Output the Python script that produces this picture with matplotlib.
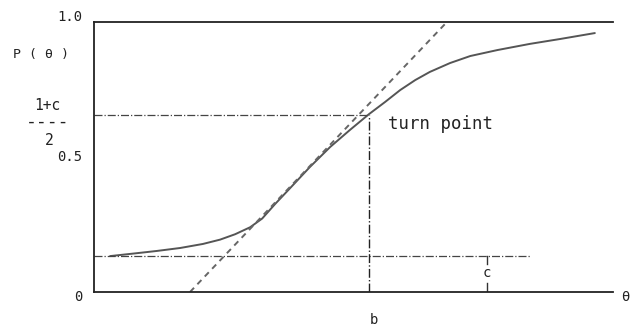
import matplotlib
matplotlib.use("Agg")
import matplotlib.pyplot as plt

# P(theta) curve (theta in arbitrary units 0..10)
theta = [0.31, 0.79, 1.21, 1.66, 2.10, 2.43, 2.72, 3.01, 3.24, 3.49, 3.78,
         4.16, 4.55, 4.93, 5.30, 5.61, 5.90, 6.19, 6.47, 6.86, 7.25, 7.77,
         8.40, 8.98, 9.65]
p_theta = [0.133, 0.143, 0.152, 0.163, 0.178, 0.194, 0.214, 0.240, 0.272,
           0.326, 0.385, 0.463, 0.537, 0.600, 0.659, 0.704, 0.748, 0.785,
           0.815, 0.848, 0.874, 0.896, 0.919, 0.937, 0.959]

# tangent at the turn point (two ends)
tangent_x = [1.85, 6.80]
tangent_y = [0.0, 1.0]

c = 0.133          # lower asymptote
b = 5.30           # turn point theta
turn_level = 0.656 # (1+c)/2 as drawn
c_line_end = 8.40
c_mark_x = 7.57

y_ticks = [0.0, 0.5, 1.0]
y_tick_labels = ["0", "0.5", "1.0"]

W, H = 630, 326
fig = plt.figure(figsize=(W / 100, H / 100), dpi=100)
ax = fig.add_axes([94 / W, 1 - 292 / H, (613 - 94) / W, (292 - 22) / H])
ax.set_xlim(0, 10)
ax.set_ylim(0, 1)
ax.set_xticks([])
ax.set_yticks([])
ax.spines["right"].set_visible(False)
for s in ["left", "top", "bottom"]:
    ax.spines[s].set_linewidth(1.3)
    ax.spines[s].set_color("#222222")

mono = "DejaVu Sans Mono"
txt = dict(family=mono, color="#222222", clip_on=False)

# curve and tangent
ax.plot(theta, p_theta, color="#555555", lw=1.4, solid_capstyle="round")
ax.plot(tangent_x, tangent_y, color="#666666", lw=1.4, ls=(0, (3, 2.5)))

# reference lines
ax.plot([0, c_line_end], [c, c], color="#444444", lw=0.9, ls="-.")
ax.plot([0, b], [turn_level, turn_level], color="#444444", lw=0.9, ls="-.")
ax.plot([b, b], [0, turn_level], color="#222222", lw=1.0, ls="-.")

# c marker
ax.plot([c_mark_x, c_mark_x], [c, c - 0.03], color="#333333", lw=1.0)
ax.plot([c_mark_x, c_mark_x], [0, 0.035], color="#333333", lw=1.0)
ax.text(c_mark_x, 0.07, "c", ha="center", va="center", fontsize=10, **txt)

# y tick labels
label_y = {0.0: -0.019, 0.5: 0.5, 1.0: 1.019}
for v, lab in zip(y_ticks, y_tick_labels):
    ax.text(-0.23, label_y[v], lab, ha="right", va="center", fontsize=10, **txt)

ax.text(-1.02, 0.878, "P ( θ )", ha="center", va="center", fontsize=9.5, **txt)
ax.text(-0.90, 0.690, "1+c", ha="center", va="center", fontsize=10.5, **txt)
ax.text(-0.90, 0.630, "----", ha="center", va="center", fontsize=13, **txt)
ax.text(-0.86, 0.560, "2", ha="center", va="center", fontsize=10.5, **txt)

ax.text(5.66, 0.622, "turn point", ha="left", va="center", fontsize=12.5, **txt)
ax.text(10.23, -0.019, "θ", ha="center", va="center", fontsize=10, **txt)
ax.text(5.39, -0.104, "b", ha="center", va="center", fontsize=10, **txt)

fig.savefig("out.png", dpi=100)
